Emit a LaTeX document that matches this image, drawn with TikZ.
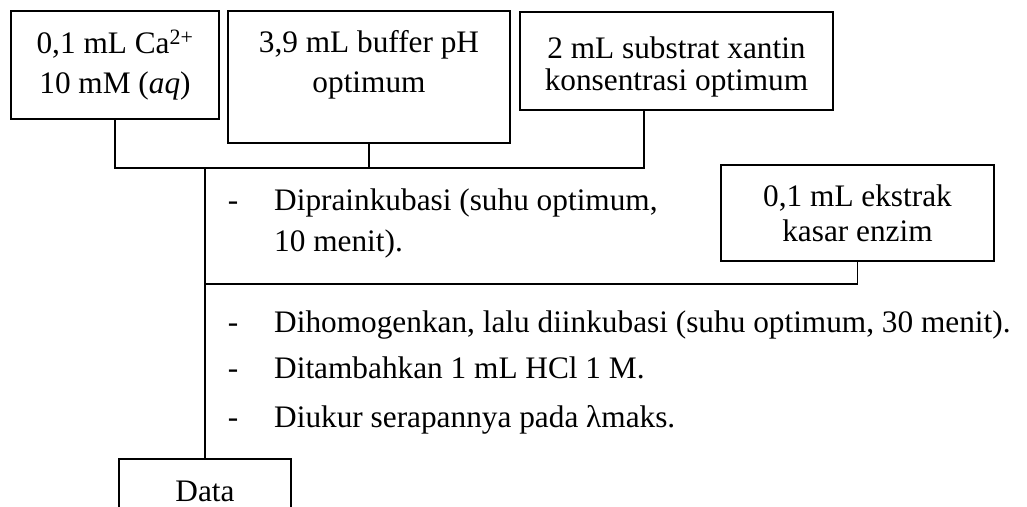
\documentclass[tikz,border=0pt]{standalone}
\usepackage{fontspec}
\setmainfont{Liberation Serif}
\usetikzlibrary{calc}
\begin{document}
\begin{tikzpicture}[x=1pt,y=-1pt,
    every node/.style={font=\fontsize{31.3}{40}\selectfont, inner sep=0pt},
    kotak/.style={draw, line width=1.3pt, align=center},
    garis/.style={line width=1.3pt},
    langkah/.style={anchor=base west},
    strip/.style={anchor=base}]
            \useasboundingbox (0,0) rectangle (1027,506);
            \clip (0,0) rectangle (1027,506);
            \node[kotak, minimum width=208, minimum height=108] (ca) at (115,65) {0,1 mL Ca\textsuperscript{2+}\\10 mM (\textit{aq})};
            \node[kotak, minimum width=282, minimum height=132] (buf) at (369,77) {};
            \node[align=center] (buftxt) at (369,65) {3,9 mL buffer pH\\optimum};
            \node[kotak, minimum width=313, minimum height=98] (sub) at (676.5,61) {};
            \node[align=center, font=\fontsize{31.3}{32}\selectfont] (subtxt) at (676.5,67) {2 mL substrat xantin\\konsentrasi optimum};
            \node[kotak, minimum width=273, minimum height=96, font=\fontsize{31.3}{35}\selectfont] (ekstrak) at (857.5,213) {0,1 mL ekstrak\\kasar enzim};
            \node[kotak, minimum width=172, minimum height=50, text height=34pt, text depth=0pt] (data) at (205,484) {Data};
            \node[strip] (s1) at (233,210) {-};
            \node[langkah] (t1a) at (274,210) {Diprainkubasi (suhu optimum,};
            \node[langkah] (t1b) at (274,251) {10 menit).};
            \node[strip] (s2) at (233,332) {-};
            \node[langkah] (t2) at (274,332) {Dihomogenkan, lalu diinkubasi (suhu optimum, 30 menit).};
            \node[strip] (s3) at (233,378) {-};
            \node[langkah] (t3) at (274,378) {Ditambahkan 1 mL HCl 1 M.};
            \node[strip] (s4) at (233,427) {-};
            \node[langkah] (t4) at (274,427) {Diukur serapannya pada λmaks.};
            \coordinate (j1) at (205,168);
            \coordinate (j2) at (205,284);
            \draw[garis] (ca.south) -- (ca.south |- j1) -- ($(sub.south |- j1)+(-32.5,0)$) -- ($(sub.south)+(-32.5,0)$);
            \draw[garis] (buf.south) -- (buf.south |- j1);
            \draw[garis] (j1) -- (data.north);
            \draw[garis] (ekstrak.south) |- (j2);
\end{tikzpicture}
\end{document}
